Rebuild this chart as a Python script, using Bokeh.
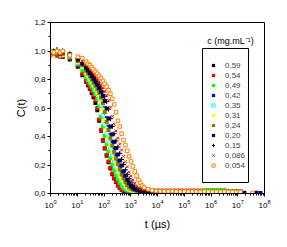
from bokeh.plotting import figure
from bokeh.models import (FixedTicker, CustomJSTickFormatter, Legend, LegendItem,
                          Label, BoxAnnotation, Range1d)
from bokeh.embed import file_html
from bokeh.resources import INLINE

nan = float("nan")

# ---- data ----
# delay times, microseconds
t_decay = [1.0, 1.32, 1.74, 2.29, 2.88, 5.25, 10.5, 15.5, 21.4, 25.1, 29.5, 34.7, 40.7, 47.9,
           56.2, 66.1, 77.6, 91.2, 107, 126, 148, 174, 204, 240, 282, 331, 389, 457, 537,
           631, 741, 871, 1023, 1202, 1413, 1660, 1950, 2291, 2692, 3162]
t_base = [4467, 6310, 8913, 12589, 17783, 25119, 35481, 50119, 70795, 1.0e5, 1.413e5, 1.995e5,
          2.818e5, 3.981e5, 5.623e5, 7.943e5, 1.122e6, 1.585e6, 2.239e6, 3.162e6, 4.467e6,
          6.310e6, 8.913e6, 1.259e7, 1.778e7, 2.512e7, 3.548e7, 5.012e7, 7.079e7]

c059 = [1.00, 0.99, 0.98, 0.97, 0.96, 0.94, 0.89, 0.83, 0.785, 0.76, 0.735, 0.705, 0.675, 0.635,
        0.585, 0.51, 0.44, 0.37, 0.315, 0.265, 0.22, 0.175, 0.135, 0.105, 0.08, 0.056, 0.038,
        0.027, 0.02, 0.017, 0.015, 0.014, 0.013, 0.013, 0.012, 0.012, 0.012, 0.011, 0.011, 0.012]
c059_base = [0.011, 0.012, 0.011, 0.012, 0.011, 0.012, 0.011, 0.012, 0.011, 0.012, 0.011, 0.012,
             0.011, 0.012, 0.011, 0.012, 0.011, 0.012, 0.011, 0.012, 0.011, 0.012, 0.011, 0.012,
             nan, nan, nan, nan, nan]

c054 = [0.99, 0.97, 0.98, 0.96, 0.97, 0.95, 0.90, 0.84, 0.79, 0.77, 0.745, 0.72, 0.69, 0.655,
        0.60, 0.52, 0.445, 0.375, 0.32, 0.27, 0.225, 0.18, 0.14, 0.11, 0.085, 0.06, 0.04, 0.03,
        0.024, 0.021, 0.02, 0.019, 0.02, 0.019, 0.02, 0.019, 0.02, 0.02, 0.019, 0.02]
c054_base = [0.02, 0.019, 0.02, 0.019, 0.02, 0.019, 0.02, 0.019, 0.02, 0.019, 0.02, 0.019,
             0.02, 0.019, 0.012, 0.011, 0.012, 0.011, 0.012, 0.011, 0.012, 0.011, 0.012, 0.011,
             nan, nan, nan, nan, nan]

c049 = [0.99, 1.00, 0.98, 0.99, 0.98, 0.96, 0.91, 0.863, 0.817, 0.794, 0.772, 0.75, 0.724, 0.698,
        0.663, 0.613, 0.539, 0.47, 0.403, 0.345, 0.297, 0.248, 0.206, 0.164, 0.13, 0.10, 0.076,
        0.053, 0.038, 0.029, 0.023, 0.021, 0.02, 0.018, 0.018, 0.017, 0.017, 0.016, 0.016, 0.016]
c049_base = [0.015, 0.014, 0.015, 0.014, 0.015, 0.014, 0.015, 0.014, 0.015, 0.014, 0.015, 0.014,
             0.015, 0.014, 0.025, 0.024, 0.025, 0.024, 0.025, 0.024, 0.012, 0.011, 0.012, 0.011,
             nan, nan, nan, nan, nan]

c042 = [0.98, 0.99, 1.00, 0.98, 0.99, 0.975, 0.932, 0.903, 0.867, 0.849, 0.828, 0.807, 0.786,
        0.765, 0.742, 0.716, 0.687, 0.652, 0.599, 0.528, 0.469, 0.41, 0.359, 0.313, 0.266, 0.225,
        0.187, 0.148, 0.119, 0.092, 0.068, 0.048, 0.036, 0.03, 0.025, 0.021, 0.018, 0.016, 0.015,
        0.015]
c042_base = [0.013, 0.012, 0.013, 0.012, 0.013, 0.012, 0.013, 0.012, 0.013, 0.012, 0.013, 0.012,
             0.013, 0.012, 0.013, 0.012, 0.013, 0.012, 0.013, 0.012, 0.013, 0.012, 0.013, 0.012,
             nan, nan, nan, nan, nan]

c035 = [0.99, 0.98, 0.99, 0.97, 0.98, 0.965, 0.919, 0.883, 0.84, 0.818, 0.796, 0.775, 0.753,
        0.727, 0.701, 0.667, 0.621, 0.55, 0.485, 0.422, 0.364, 0.315, 0.267, 0.224, 0.184, 0.145,
        0.116, 0.089, 0.065, 0.046, 0.034, 0.027, 0.022, 0.02, 0.018, 0.017, 0.016, 0.016, 0.015,
        0.015]
c035_base = [0.014, 0.013, 0.014, 0.013, 0.014, 0.013, 0.014, 0.013, 0.014, 0.013, 0.014, 0.013,
             0.014, 0.013, 0.014, 0.013, 0.014, 0.013, 0.014, 0.013, 0.014, 0.013, 0.014, 0.013,
             nan, nan, nan, nan, nan]

c031 = [0.98, 0.97, 0.99, 0.98, 0.97, 0.97, 0.923, 0.89, 0.85, 0.828, 0.806, 0.784, 0.763,
        0.739, 0.713, 0.683, 0.646, 0.589, 0.516, 0.454, 0.394, 0.341, 0.295, 0.248, 0.208,
        0.168, 0.134, 0.105, 0.079, 0.057, 0.042, 0.032, 0.025, 0.021, 0.019, 0.018, 0.017,
        0.017, 0.016, 0.016]
c031_base = [0.015, 0.014, 0.015, 0.014, 0.015, 0.014, 0.015, 0.014, 0.015, 0.014, 0.015, 0.014,
             0.015, 0.014, 0.015, 0.014, 0.015, 0.014, 0.015, 0.014, 0.015, 0.014, 0.015, 0.014,
             nan, nan, nan, nan, nan]

c024 = [0.99, 0.98, 0.97, 0.99, 0.98, 0.97, 0.929, 0.90, 0.862, 0.842, 0.821, 0.80, 0.778,
        0.757, 0.732, 0.706, 0.674, 0.633, 0.57, 0.502, 0.445, 0.387, 0.337, 0.292, 0.246,
        0.207, 0.168, 0.134, 0.105, 0.08, 0.058, 0.042, 0.033, 0.027, 0.023, 0.02, 0.018,
        0.017, 0.016, 0.016]
c024_base = [0.014, 0.015, 0.014, 0.015, 0.014, 0.015, 0.014, 0.015, 0.014, 0.015, 0.014, 0.015,
             0.014, 0.015, 0.014, 0.015, 0.014, 0.015, 0.014, 0.015, 0.014, 0.015, 0.014, 0.015,
             nan, nan, nan, nan, nan]

c020 = [1.00, 0.99, 1.00, 0.98, 0.99, 0.975, 0.94, 0.911, 0.881, 0.863, 0.845, 0.825, 0.805,
        0.784, 0.763, 0.74, 0.714, 0.684, 0.649, 0.596, 0.526, 0.47, 0.415, 0.364, 0.319, 0.274,
        0.232, 0.196, 0.157, 0.126, 0.097, 0.074, 0.053, 0.04, 0.032, 0.027, 0.023, 0.02, 0.017,
        0.015]
c020_base = [0.012, 0.01, 0.009, 0.008, 0.009, 0.008, 0.009, 0.008, 0.009, 0.008, 0.009, 0.008,
             0.009, 0.008, 0.009, 0.008, 0.009, 0.008, 0.009, 0.008, 0.007, 0.008, 0.006, 0.007,
             0.006, nan, nan, 0.005, 0.004]

c015 = [1.01, 1.00, 1.01, 0.99, 1.00, 0.98, 0.948, 0.919, 0.893, 0.876, 0.859, 0.841, 0.822,
        0.803, 0.782, 0.761, 0.738, 0.712, 0.682, 0.645, 0.592, 0.525, 0.471, 0.419, 0.369,
        0.326, 0.282, 0.239, 0.204, 0.166, 0.133, 0.104, 0.08, 0.059, 0.044, 0.034, 0.029,
        0.025, 0.021, 0.019]
c015_base = [0.016, 0.014, 0.013, 0.012, 0.013, 0.012, 0.013, 0.012, 0.013, 0.012, 0.013, 0.012,
             0.013, 0.012, 0.013, 0.012, 0.013, 0.012, 0.013, 0.012, 0.013, 0.012, 0.013, 0.012,
             nan, nan, nan, nan, nan]

c0086 = [0.97, 0.98, 0.96, 0.97, 0.98, 0.98, 0.955, 0.929, 0.905, 0.891, 0.875, 0.859, 0.842,
         0.824, 0.806, 0.786, 0.765, 0.743, 0.717, 0.689, 0.654, 0.606, 0.541, 0.486, 0.439,
         0.388, 0.346, 0.305, 0.26, 0.223, 0.188, 0.15, 0.122, 0.095, 0.072, 0.052, 0.041,
         0.033, 0.029, 0.025]
c0086_base = [0.024, 0.025, 0.024, 0.025, 0.024, 0.025, 0.024, 0.025, 0.024, 0.025, 0.024,
              0.025, 0.024, 0.024, 0.012, 0.011, 0.012, 0.011, 0.012, 0.011, 0.012, 0.011,
              0.012, 0.011, nan, nan, nan, nan, nan]

c0054 = [1.00, 0.99, 1.00, 0.99, 1.00, 0.97, 0.96, 0.95, 0.925, 0.91, 0.90, 0.885, 0.87, 0.855,
         0.84, 0.825, 0.81, 0.79, 0.77, 0.75, 0.725, 0.70, 0.665, 0.625, 0.57, 0.51, 0.47, 0.42,
         0.375, 0.34, 0.30, 0.26, 0.225, 0.19, 0.155, 0.125, 0.095, 0.075, 0.055, 0.042]
c0054_base = [0.03, 0.022, 0.018, 0.016, 0.015, 0.014, 0.015, 0.014, 0.013, 0.014, 0.013, 0.014,
              0.013, 0.013, 0.014, 0.013, 0.012, 0.013, 0.012, 0.013, 0.012, 0.012, 0.011, 0.012,
              nan, nan, 0.004, nan, nan]

labels = ["0,59", "0,54", "0,49", "0,42", "0,35", "0,31", "0,24", "0,20", "0,15", "0,086", "0,054"]
y_ticks = [0.0, 0.2, 0.4, 0.6, 0.8, 1.0, 1.2]
x_ticks = [1, 10, 100, 1e3, 1e4, 1e5, 1e6, 1e7, 1e8]

decays = [c059, c054, c049, c042, c035, c031, c024, c020, c015, c0086, c0054]
bases = [c059_base, c054_base, c049_base, c042_base, c035_base, c031_base, c024_base,
         c020_base, c015_base, c0086_base, c0054_base]

# ---- styles ----
styles = [
    dict(marker="square", size=4, fill_color="#000000", line_color=None),
    dict(marker="square", size=4, fill_color="#ff0000", line_color=None),
    dict(marker="square", size=4, fill_color="#00ff00", line_color=None),
    dict(marker="square", size=4, fill_color="#0000ff", line_color=None),
    dict(marker="square", size=3.5, fill_color="#ffffff", line_color="#00ffff", line_width=1),
    dict(marker="square", size=4, fill_color="#ffff00", line_color=None),
    dict(marker="square", size=4, fill_color="#808000", line_color=None),
    dict(marker="square", size=4, fill_color="#000080", line_color=None),
    dict(marker="cross", size=5, fill_color=None, line_color="#000000", line_width=1),
    dict(marker="x", size=4, fill_color=None, line_color="#ff0000", line_width=1),
    dict(marker="square", size=3.5, fill_color="#ffffff", line_color="#ff8000", line_width=1),
]

FONT = "Liberation Sans"

p = figure(width=287, height=247, x_axis_type="log",
           x_range=Range1d(1, 1e8), y_range=Range1d(0, 1.2),
           output_backend="svg", toolbar_location=None,
           min_border_left=50, min_border_right=23, min_border_top=22, min_border_bottom=54)
p.grid.visible = False
p.outline_line_color = "black"
p.outline_line_width = 1
p.background_fill_color = "white"
p.border_fill_color = "white"

items = []
for lab, cd, cb, st in zip(labels, decays, bases, styles):
    r = p.scatter(t_decay + t_base, cd + cb, **st)
    items.append(LegendItem(label=lab, renderers=[r]))

# axes
p.xaxis.ticker = FixedTicker(ticks=x_ticks,
                             minor_ticks=[k * 10 ** d for d in range(8) for k in range(2, 10)])
p.yaxis.ticker = FixedTicker(ticks=y_ticks, minor_ticks=[0.1, 0.3, 0.5, 0.7, 0.9, 1.1])
p.yaxis.formatter = CustomJSTickFormatter(code="return tick.toFixed(1).replace('.', ',')")
for ax in (p.xaxis[0], p.yaxis[0]):
    ax.axis_line_color = "black"
    ax.major_tick_line_color = "black"
    ax.minor_tick_line_color = "black"
    ax.major_tick_in = 0
    ax.major_tick_out = 3
    ax.minor_tick_in = 0
    ax.minor_tick_out = 2
    ax.major_label_text_font = FONT
    ax.major_label_text_font_size = "8px"
    ax.major_label_text_color = "black"
    ax.axis_label_text_font = FONT
    ax.axis_label_text_font_size = "11px"
    ax.axis_label_text_font_style = "normal"
    ax.axis_label_text_color = "black"
p.yaxis.major_label_standoff = 2
p.xaxis.major_label_standoff = 3
p.xaxis.axis_label = "t (µs)"
p.yaxis.axis_label = "C(t)"
p.yaxis.axis_label_standoff = 4
p.xaxis.axis_label_standoff = 7

legend = Legend(items=items, location=(154, 18),
                glyph_width=8, glyph_height=10, label_height=10, spacing=0, padding=5,
                label_standoff=8, label_text_font=FONT, label_text_font_size="8px",
                background_fill_alpha=0, border_line_alpha=0, margin=0)
p.add_layout(legend)

p.add_layout(BoxAnnotation(left=4.81e5, right=2.52e7, top=1.0175, bottom=0.0772,
                           fill_alpha=0, line_color="black", line_width=1, line_alpha=1))
p.add_layout(Label(x=5.36e6, y=1.067, text="c (mg.mL⁻¹)", text_align="center",
                   text_baseline="middle", text_font=FONT, text_font_size="9px",
                   text_color="black"))

open("out.html", "w").write(file_html(p, INLINE))
